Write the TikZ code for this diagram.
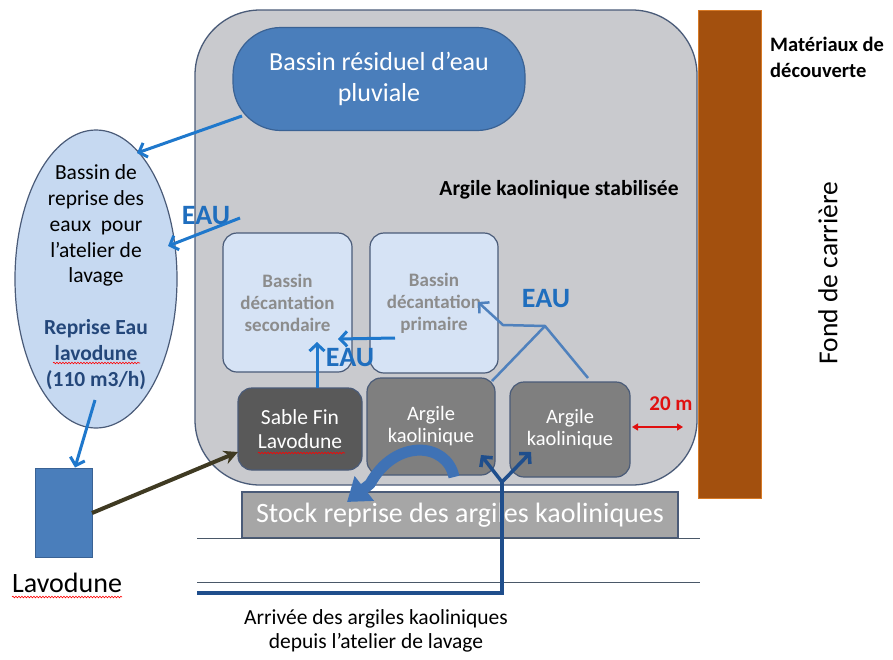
\documentclass[tikz,border=0pt]{standalone}
\usepackage{fontspec}
\setmainfont{Carlito}
\usetikzlibrary{arrows.meta,decorations.pathmorphing,shapes.geometric}
\definecolor{bggrey}{HTML}{C9CACE}
\definecolor{bordercol}{HTML}{4A5B78}
\definecolor{pluvfill}{HTML}{4A7EBB}
\definecolor{pluvborder}{HTML}{3A6294}
\definecolor{ellfill}{HTML}{C6D9F1}
\definecolor{decfill}{HTML}{D6E3F5}
\definecolor{decgrey}{HTML}{8C8C8C}
\definecolor{sablefill}{HTML}{595959}
\definecolor{argfill}{HTML}{7F7F7F}
\definecolor{stockfill}{HTML}{A6A6A6}
\definecolor{brown}{HTML}{A3500E}
\definecolor{brownedge}{HTML}{D77A26}
\definecolor{eaublue}{HTML}{1F78CC}
\definecolor{eautext}{HTML}{1F6EBE}
\definecolor{steelblue}{HTML}{4F81BD}
\definecolor{curvefill}{HTML}{3F72B5}
\definecolor{darkblue}{HTML}{1F4E8C}
\definecolor{olive}{HTML}{3F3A22}
\definecolor{navytext}{HTML}{24477A}
\definecolor{redtext}{HTML}{E01010}
\definecolor{linegrey}{HTML}{4A5868}
\begin{document}
\begin{tikzpicture}[x=1pt,y=-1pt,
  box/.style={draw=bordercol, line width=1.2pt, rounded corners=14pt, inner sep=0pt, outer sep=0pt, align=center},
  eauarrow/.style={draw=eaublue, line width=3pt, -{Straight Barb[length=7pt,width=15pt]}},
  eaulabel/.style={text=eautext, font=\fontsize{28}{30}\selectfont\bfseries, inner sep=0pt},
  squig/.style={draw=red, line width=0.6pt, decorate, decoration={snake, amplitude=0.8pt, segment length=3pt}},
  dbarrow/.style={draw=darkblue, line width=3.5pt, -{Straight Barb[length=7pt,width=15pt]}},
  plain/.style={inner sep=0pt, align=center}
]
\useasboundingbox (0,0) rectangle (893,659);

% main area
\node (main) [draw=bordercol, fill=bggrey, line width=1.3pt, rounded corners=65pt, minimum width=502pt, minimum height=475pt, inner sep=0pt] at (446,247.5) {};

% brown bar
\node (bar) [draw=brownedge, fill=brown, line width=1pt, minimum width=63pt, minimum height=488pt, inner sep=0pt] at (729.5,254) {};

% pluvial basin
\node (pluv) [draw=pluvborder, fill=pluvfill, line width=1.2pt, rounded corners=48pt, minimum width=292pt, minimum height=103pt, inner sep=0pt, align=center, text=white, font=\fontsize{26}{31}\selectfont] at (379,79) {Bassin résiduel d’eau\\pluviale};

% ellipse
\node (ell) [ellipse, draw=bordercol, fill=ellfill, line width=1.2pt, minimum width=162pt, minimum height=298pt, inner sep=0pt] at (96,279) {};
\node (elltext) [plain, font=\fontsize{21.5}{25.8}\selectfont] at (96,277) {Bassin de\\reprise des\\eaux~ pour\\l’atelier de\\lavage\\[25.8pt]{\bfseries\color{navytext}Reprise Eau}\\{\bfseries\color{navytext}lavodune}\\{\bfseries\color{navytext}(110 m3/h)}};

% decantation basins
\node (dsec) [box, fill=decfill, minimum width=129pt, minimum height=139pt, text=decgrey, font=\fontsize{19}{22}\selectfont\bfseries] at (287.5,302.5) {Bassin\\décantation\\secondaire};
\node (dprim) [box, fill=decfill, minimum width=128pt, minimum height=140pt, text=decgrey, font=\fontsize{19}{22}\selectfont\bfseries] at (434,303) {Bassin\\décantation\\primaire};

% bottom boxes
\node (sable) [box, fill=sablefill, minimum width=124pt, minimum height=82pt, text=white, font=\fontsize{21.5}{24}\selectfont] at (300,429) {Sable Fin\\Lavodune};
\node (arg1) [box, fill=argfill, minimum width=128pt, minimum height=97pt, text=white, font=\fontsize{20.5}{22}\selectfont] at (431,426.5) {Argile\\kaolinique};
\node (arg2) [box, fill=argfill, minimum width=120pt, minimum height=95pt, text=white, font=\fontsize{20.5}{22}\selectfont] at (570,429.5) {Argile\\kaolinique};

% stock
\node (stock) [draw=bordercol, line width=1.2pt, fill=stockfill, minimum width=436pt, minimum height=46pt, inner sep=0pt, text=white, font=\fontsize{28}{30}\selectfont] at (460,515) {Stock reprise des argiles kaoliniques};

% lavodune machine
\node (lavo) [draw=pluvborder, fill=pluvfill, line width=1pt, minimum width=57pt, minimum height=89pt, inner sep=0pt] at (63.5,512.5) {};
\node (lavolbl) [plain, font=\fontsize{28}{30}\selectfont] at (67,583) {Lavodune};

% thin horizontal lines
\coordinate (l1a) at (197,538); \coordinate (l1b) at (700,538);
\coordinate (l2a) at (197,582); \coordinate (l2b) at (700,582);
\draw[linegrey, line width=0.8pt] (l1a) -- (l1b);
\draw[linegrey, line width=0.8pt] (l2a) -- (l2b);

% texts
\node (stab) [plain, font=\fontsize{21.5}{24}\selectfont\bfseries] at (559,190) {Argile kaolinique stabilisée};
\node (mat) [plain, anchor=west, align=left, font=\fontsize{20.5}{26}\selectfont\bfseries] at (770,57) {Matériaux de\\découverte};
\node (fond) [plain, rotate=90, font=\fontsize{27.5}{30}\selectfont] at (828,273) {Fond de carrière};
\node (arr) [plain, font=\fontsize{21.5}{24}\selectfont] at (376,631) {Arrivée des argiles kaoliniques\\depuis l’atelier de lavage};

% EAU labels
\node (eau1) [eaulabel] at (206,216) {EAU};
\node (eau2) [eaulabel] at (546,299) {EAU};
\node (eau3) [eaulabel] at (350,358) {EAU};

% 20 m
\node (vingt) [plain, text=redtext, font=\fontsize{21}{22}\selectfont\bfseries] at (671,404) {20 m};
\coordinate (d1) at (632,427); \coordinate (d2) at (683,427);
\draw[redtext, line width=1.3pt, {Triangle[length=6pt,width=7pt]}-{Triangle[length=6pt,width=7pt]}] (d1) -- (d2);

% blue water arrows
\coordinate (a1s) at (242,116); \coordinate (a1e) at (137,153);
\draw[eauarrow] (a1s) -- (a1e);
\coordinate (a2s) at (240,218); \coordinate (a2e) at (168,246);
\draw[eauarrow] (a2s) -- (a2e);
\coordinate (a3s) at (95,400);
\draw[eauarrow] (a3s) -- (lavo.north -| 75,0);
\draw[eauarrow] (sable.north -| 317,0) -- (317,342);
\coordinate (a6s) at (395,338); \coordinate (a6e) at (338,339);
\draw[eauarrow] (a6s) -- (a6e);

% steel blue primary arrow
\coordinate (pk) at (545,326);
\coordinate (pa) at (492,381);
\coordinate (pb) at (588,378);
\coordinate (pc) at (503,325);
\coordinate (pt) at (478,302);
\draw[steelblue, line width=2.5pt, line join=round] (pa) -- (pk) -- (pb);
\draw[steelblue, line width=2.5pt, line join=round, -{Straight Barb[length=7pt,width=15pt]}] (pk) -- (pc) -- (pt);

% olive arrow
\coordinate (os) at (92,513);
\draw[olive, line width=4pt, -{Stealth[length=14pt,width=14pt]}] (os) -- (238,452);

% curved arrow argile -> stock
\coordinate (cs) at (454,477);
\coordinate (cm) at (370,484);
\coordinate (ce) at (347,502);
\draw[curvefill, line width=11pt, line join=round, -{Triangle[length=22pt,width=30pt]}] (cs) .. controls (447,442) and (395,438) .. (cm) -- (ce);

% dark blue arrival arrows
\coordinate (b0) at (197,593);
\coordinate (b1) at (502,593);
\coordinate (b2) at (502,482);
\coordinate (bl) at (481,455);
\coordinate (br) at (531,452);
\draw[darkblue, line width=3.5pt, line join=miter] (b0) -- (b1) -- (b2);
\draw[dbarrow] (b2) -- (bl);
\draw[dbarrow] (b2) -- (br);

% spell-check squiggles
\coordinate (s1a) at (53,363); \coordinate (s1b) at (140,363);
\draw[squig] (s1a) -- (s1b);
\coordinate (s2a) at (258,453); \coordinate (s2b) at (345,453);
\draw[squig] (s2a) -- (s2b);
\coordinate (s3a) at (12,597); \coordinate (s3b) at (122,597);
\draw[squig] (s3a) -- (s3b);
\end{tikzpicture}
\end{document}
